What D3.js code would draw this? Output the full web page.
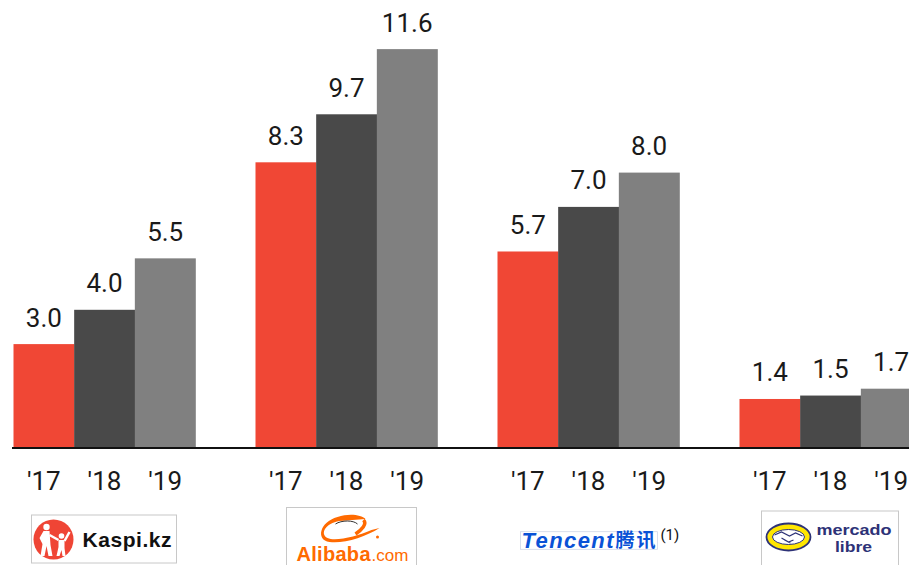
<!DOCTYPE html>
<html>
<head>
<meta charset="utf-8">
<script src="https://cdn.jsdelivr.net/npm/d3@7"></script>
<style>
  html, body { margin: 0; padding: 0; background: #fff; }
  svg { display: block; }
</style>
</head>
<body>
<svg id="chart" width="909" height="565"></svg>
<script>
// ---- data ----
const companies = ["Kaspi.kz", "Alibaba", "Tencent", "Mercado Libre"];
const years = ["'17", "'18", "'19"];
const values2017 = [3.0, 8.3, 5.7, 1.4];
const values2018 = [4.0, 9.7, 7.0, 1.5];
const values2019 = [5.5, 11.6, 8.0, 1.7];
const seriesColors = ["#f04735", "#494949", "#808080"];

const series = [values2017, values2018, values2019];

const W = 909, H = 565;
const svg = d3.select("#chart");

const baseY = 447;
const y = d3.scaleLinear().domain([0, 12]).range([baseY, baseY - 12 * 34.3]);

const x0 = d3.scaleBand().domain(companies).range([13.5, 921.5]).paddingInner(0.2479).paddingOuter(0);
const x1 = d3.scaleBand().domain(years).range([0, x0.bandwidth()]).padding(0);

const color = d3.scaleOrdinal().domain(years).range(seriesColors);

const rows = companies.map((c, i) => ({
  company: c,
  bars: years.map((yr, j) => ({ company: c, year: yr, value: series[j][i] }))
}));

const groups = svg.selectAll("g.group").data(rows).join("g")
  .attr("class", "group")
  .attr("transform", d => `translate(${x0(d.company)},0)`);

groups.selectAll("rect").data(d => d.bars).join("rect")
  .attr("x", d => x1(d.year))
  .attr("width", x1.bandwidth() + 0.3)
  .attr("y", d => y(d.value))
  .attr("height", d => y(0) - y(d.value))
  .attr("fill", d => color(d.year));

groups.selectAll("text.val").data(d => d.bars).join("text")
  .attr("class", "val")
  .attr("x", d => x1(d.year) + x1.bandwidth() / 2)
  .attr("y", d => y(d.value) - 17.5)
  .attr("text-anchor", "middle")
  .attr("font-family", "Roboto, sans-serif")
  .attr("font-size", 26)
  .attr("fill", "#1a1a1a")
  .text(d => d.value.toFixed(1));

groups.selectAll("text.tick").data(d => d.bars).join("text")
  .attr("class", "tick")
  .attr("x", d => x1(d.year) + x1.bandwidth() / 2)
  .attr("y", 490)
  .attr("text-anchor", "middle")
  .attr("font-family", "Roboto, sans-serif")
  .attr("font-size", 26)
  .attr("fill", "#1a1a1a")
  .text(d => d.year);

// baseline
svg.append("line")
  .attr("x1", x0(companies[0]) - 1.5).attr("x2", W)
  .attr("y1", y(0) + 1).attr("y2", y(0) + 1)
  .attr("stroke", "#111").attr("stroke-width", 2);

// ---- logos ----
const cx = c => x0(c) + x0.bandwidth() / 2;

// Kaspi
{
  const g = svg.append("g").attr("transform", `translate(${cx(companies[0])},0)`);
  g.append("rect").attr("x", -73).attr("y", 515).attr("width", 145).attr("height", 48)
    .attr("fill", "#fff").attr("stroke", "#c8c8c8").attr("stroke-width", 1);
  g.append("circle").attr("cx", -51).attr("cy", 539.5).attr("r", 20).attr("fill", "#ef4535");
  g.append("circle").attr("cx", -58).attr("cy", 527).attr("r", 3.2).attr("fill", "#fff");
  g.append("path").attr("d", "M-61,531 L-55,531 L-54,545 L-52,556 L-56,556 L-58,546 L-60,556 L-64,556 L-62,544 L-65,538 Z")
    .attr("fill", "#fff");
  g.append("path").attr("d", "M-55,535 L-46,540").attr("stroke", "#fff").attr("stroke-width", 2.5);
  g.append("circle").attr("cx", -43).attr("cy", 536).attr("r", 2.8).attr("fill", "#fff");
  g.append("path").attr("d", "M-46,540 L-40,540 L-40,548 L-39,556 L-42,556 L-43,550 L-45,556 L-48,556 L-46,547 Z")
    .attr("fill", "#fff");
  g.append("path").attr("d", "M-40,541 L-35,532").attr("stroke", "#fff").attr("stroke-width", 2.5);
  g.append("text").attr("x", -22).attr("y", 547)
    .attr("font-family", "Liberation Sans, Arial, sans-serif").attr("font-weight", "bold")
    .attr("font-size", 21).attr("fill", "#111").attr("textLength", 89)
    .text("Kaspi.kz");
}

// Alibaba
{
  const g = svg.append("g").attr("transform", `translate(${cx(companies[1])},0)`);
  g.append("rect").attr("x", -60).attr("y", 507.5).attr("width", 130).attr("height", 62)
    .attr("fill", "#fff").attr("stroke", "#c8c8c8").attr("stroke-width", 1);
  const orange = "#ff6a00";
  g.append("path")
    .attr("d", "M-7,521 C-21,523 -27,534 -19,538 C-11,542 11,536 25,530 L33,528 C19,537 -3,544 -17,542 C-31,540 -27,522 -9,517 C3,513 15,515 19,519 Z")
    .attr("fill", orange);
  g.append("path").attr("d", "M-11,524 C-5,520 7,520 11,524").attr("stroke", "#333").attr("fill", "none").attr("stroke-width", 1);
  g.append("path").attr("d", "M17,520 C21,524 15,530 9,534").attr("stroke", orange).attr("fill", "none").attr("stroke-width", 3.5);
  g.append("circle").attr("cx", 31).attr("cy", 537).attr("r", 1.5).attr("fill", orange);
  g.append("text").attr("x", -50).attr("y", 561)
    .attr("font-family", "Liberation Sans, Arial, sans-serif").attr("font-weight", "bold")
    .attr("font-size", 20).attr("fill", orange).attr("textLength", 74)
    .text("Alibaba");
  g.append("text").attr("x", 25).attr("y", 561)
    .attr("font-family", "Liberation Sans, Arial, sans-serif")
    .attr("font-size", 17).attr("fill", orange).attr("textLength", 37)
    .text(".com");
}

// Tencent
{
  const c = cx(companies[2]);
  const g = svg.append("g").attr("transform", `translate(${c},0)`);
  g.append("rect").attr("x", -68).attr("y", 531.7).attr("width", 137).attr("height", 17.6)
    .attr("fill", "#fff").attr("stroke", "#cfd6e6").attr("stroke-width", 0.8);
  g.append("text").attr("x", -67).attr("y", 548)
    .attr("font-family", "Liberation Sans, Arial, sans-serif").attr("font-weight", "bold")
    .attr("font-style", "italic")
    .attr("font-size", 22).attr("fill", "#0a52d6").attr("textLength", 92)
    .text("Tencent");
  g.append("text").attr("x", 27).attr("y", 547)
    .attr("font-family", "Noto Sans CJK SC, sans-serif").attr("font-weight", "bold")
    .attr("font-size", 19).attr("fill", "#0a52d6").attr("textLength", 40)
    .text("腾讯");
  svg.append("clipPath").attr("id", "tclip").append("rect")
    .attr("x", 0).attr("y", 0).attr("width", 681).attr("height", H);
  svg.append("text").attr("x", c + 72).attr("y", 540)
    .attr("clip-path", "url(#tclip)")
    .attr("font-family", "Roboto, sans-serif")
    .attr("font-size", 15).attr("fill", "#111")
    .text("(1)");
}

// Mercado Libre
{
  const g = svg.append("g").attr("transform", `translate(${cx(companies[3])},0)`);
  const navy = "#2d3277";
  g.append("rect").attr("x", -69).attr("y", 511).attr("width", 137).attr("height", 60)
    .attr("fill", "#fff").attr("stroke", "#c8c8c8").attr("stroke-width", 1);
  g.append("ellipse").attr("cx", -42).attr("cy", 537).attr("rx", 22).attr("ry", 13.5)
    .attr("fill", "#ffe600").attr("stroke", navy).attr("stroke-width", 1.8);
  g.append("ellipse").attr("cx", -42).attr("cy", 537).attr("rx", 16).attr("ry", 7.5)
    .attr("fill", "#fff").attr("stroke", navy).attr("stroke-width", 1);
  g.append("path").attr("d", "M-56,535 L-49,532 L-41,536 L-35,533 L-28,536 M-49,538 L-42,542 L-37,540 M-46,540 L-40,543")
    .attr("fill", "none").attr("stroke", navy).attr("stroke-width", 1.2);
  g.append("text").attr("x", -14).attr("y", 535)
    .attr("font-family", "Liberation Sans, Arial, sans-serif").attr("font-weight", "bold")
    .attr("font-size", 15).attr("fill", navy).attr("textLength", 75)
    .attr("lengthAdjust", "spacingAndGlyphs")
    .text("mercado");
  g.append("text").attr("x", 23).attr("y", 551.5)
    .attr("text-anchor", "middle")
    .attr("font-family", "Liberation Sans, Arial, sans-serif").attr("font-weight", "bold")
    .attr("font-size", 15).attr("fill", navy).attr("textLength", 37)
    .attr("lengthAdjust", "spacingAndGlyphs")
    .text("libre");
}
</script>
</body>
</html>
